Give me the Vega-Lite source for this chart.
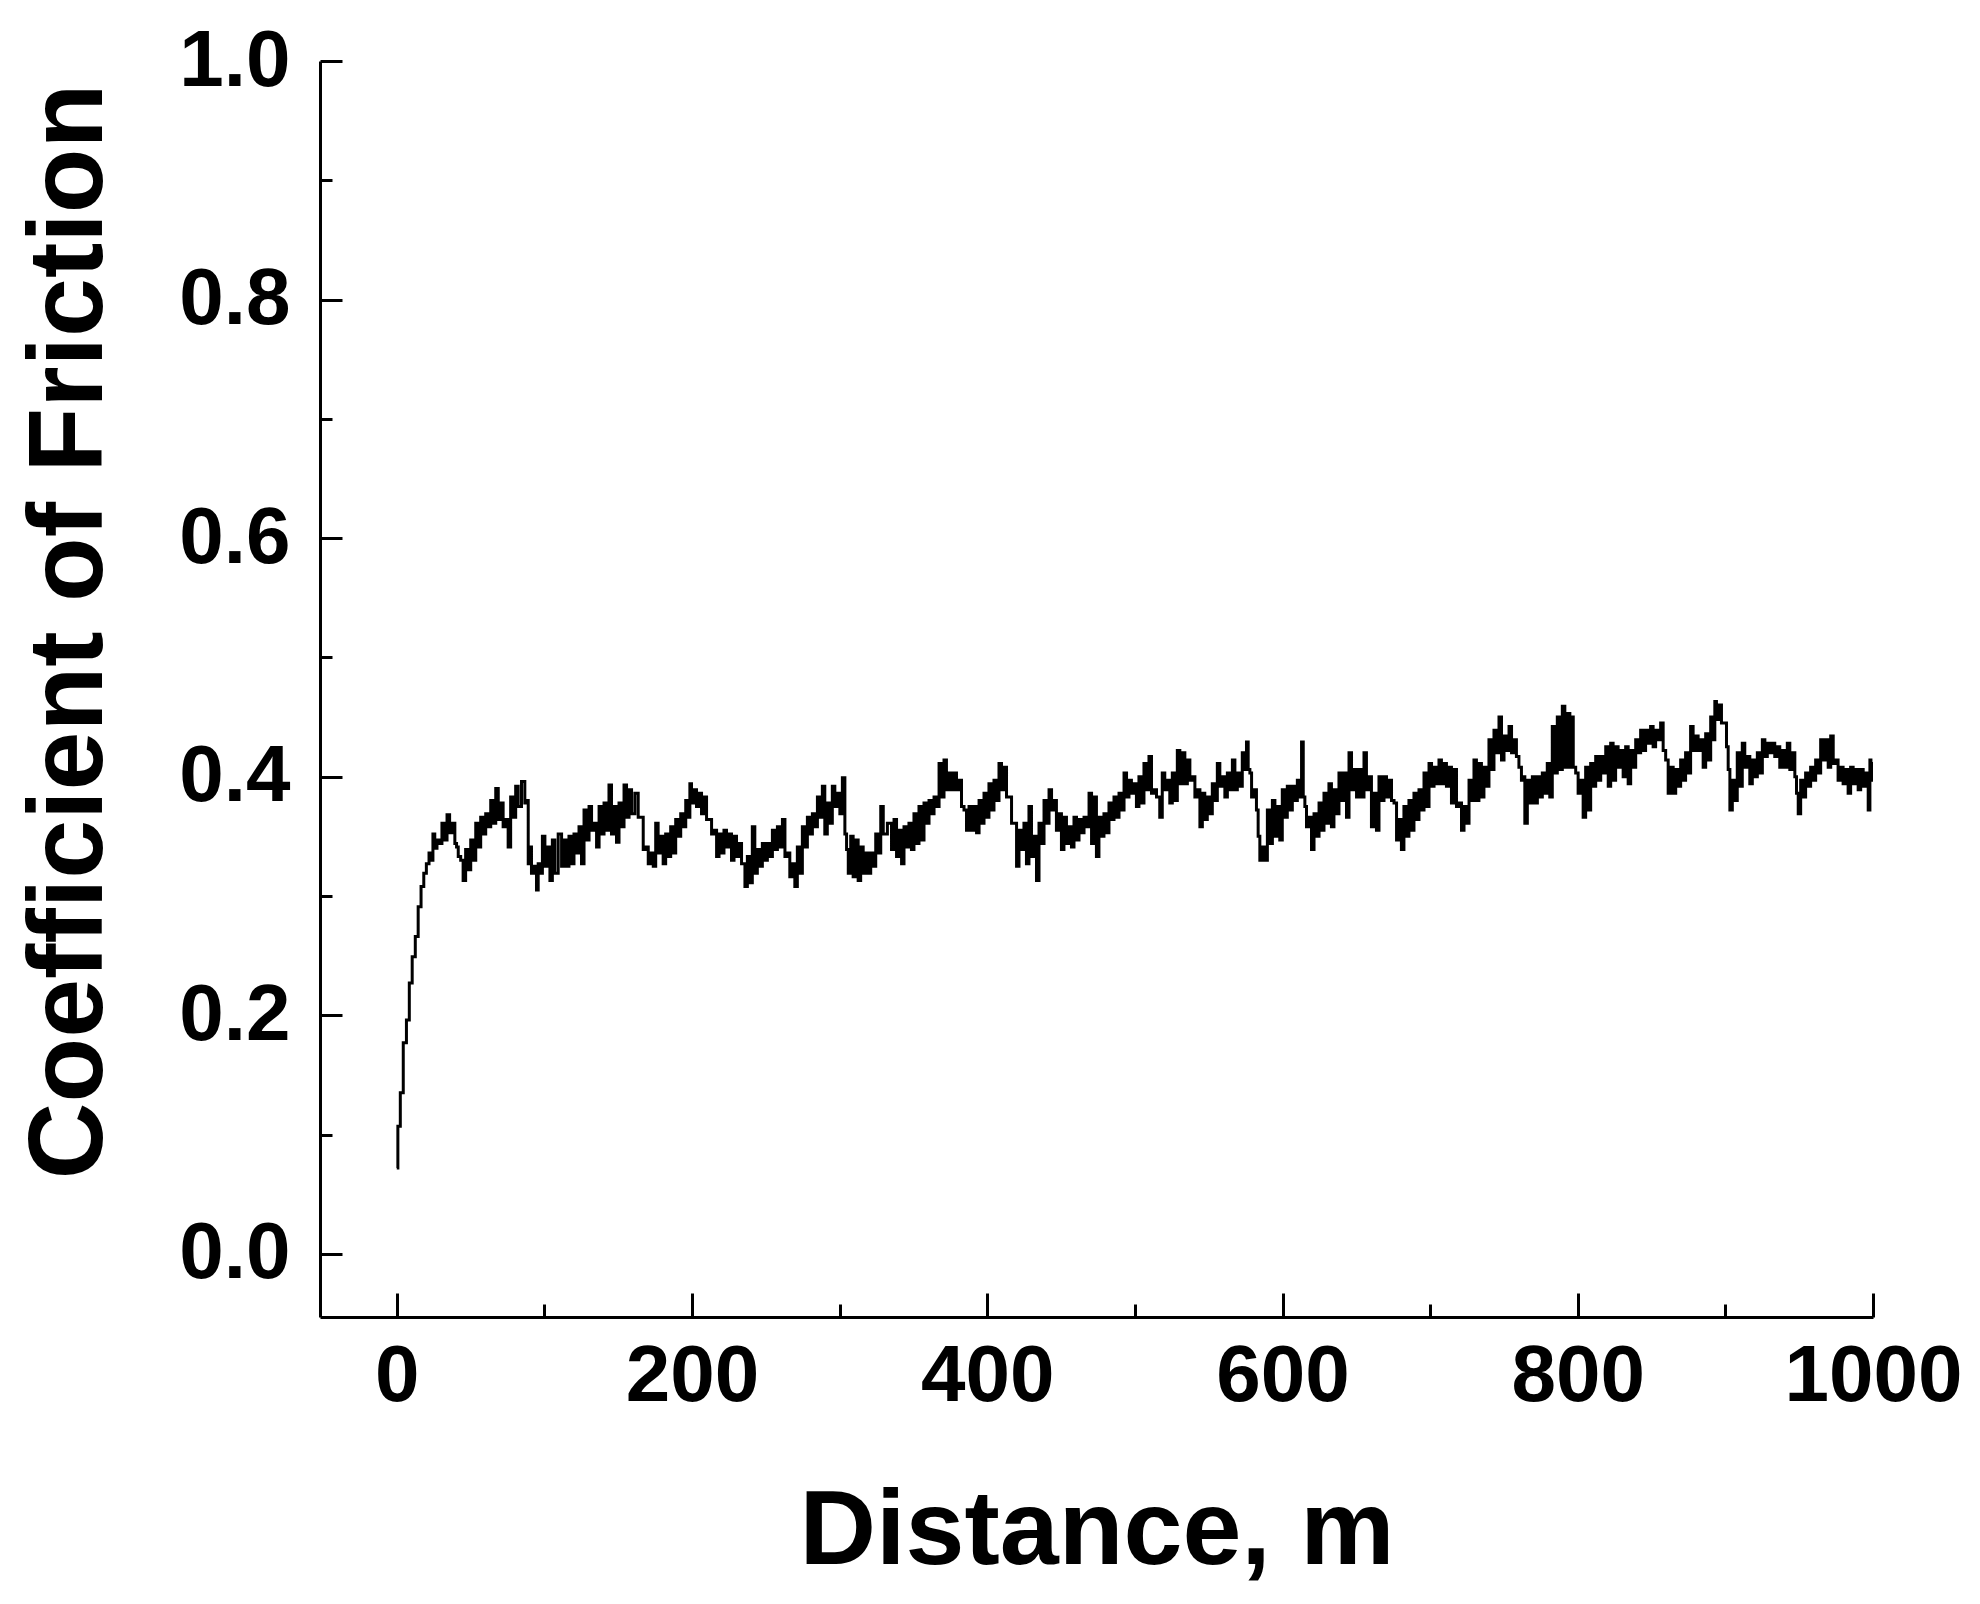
{
  "$schema": "https://vega.github.io/schema/vega-lite/v6.json",
  "width": 1553,
  "height": 1256,
  "autosize": "none",
  "padding": {"left": 320, "top": 61, "right": 107, "bottom": 287},
  "background": "white",
  "config": {"view": {"stroke": null}, "font": "Liberation Sans"},
  "data": {"values": [
    {"distance":0,"cof":0.072},{"distance":1.5,"cof":0.107},{"distance":3.3,"cof":0.135},{"distance":5.5,"cof":0.177},{"distance":7.6,"cof":0.196},{"distance":9.4,"cof":0.227},{"distance":11.5,"cof":0.249},{"distance":13.6,"cof":0.266},{"distance":15.4,"cof":0.291},{"distance":17.5,"cof":0.308},{"distance":19.1,"cof":0.319},{"distance":21,"cof":0.327},{"distance":22.7,"cof":0.336},{"distance":24,"cof":0.33},{"distance":25,"cof":0.352},{"distance":26.5,"cof":0.34},{"distance":28,"cof":0.347},{"distance":29.5,"cof":0.344},{"distance":31.7,"cof":0.361},{"distance":33,"cof":0.347},{"distance":35.1,"cof":0.368},{"distance":36.5,"cof":0.353},
    {"distance":38.5,"cof":0.361},{"distance":40.2,"cof":0.344},{"distance":40.8,"cof":0.341},{"distance":42.5,"cof":0.333},{"distance":44.1,"cof":0.33},{"distance":45.8,"cof":0.313},{"distance":47.5,"cof":0.339},{"distance":49.2,"cof":0.322},{"distance":51,"cof":0.347},{"distance":52.7,"cof":0.33},{"distance":54.3,"cof":0.361},{"distance":56,"cof":0.341},{"distance":57.7,"cof":0.366},{"distance":59.4,"cof":0.352},{"distance":61.1,"cof":0.369},{"distance":62.8,"cof":0.358},{"distance":64.5,"cof":0.38},{"distance":66.2,"cof":0.361},{"distance":67.9,"cof":0.39},{"distance":69.6,"cof":0.364},{"distance":71.2,"cof":0.378},{"distance":72.9,"cof":0.358},{"distance":74.6,"cof":0.364},{"distance":76.3,"cof":0.341},{"distance":78,"cof":0.383},{"distance":79.7,"cof":0.366},{"distance":81.4,"cof":0.392},{"distance":83.1,"cof":0.375},{"distance":85.9,"cof":0.396},{"distance":87.6,"cof":0.378},{"distance":88.2,"cof":0.38},{"distance":89.9,"cof":0.327},{"distance":90.4,"cof":0.341},{"distance":92.1,"cof":0.319},{"distance":93.8,"cof":0.325},{"distance":95.5,"cof":0.305},{"distance":96.1,"cof":0.327},{"distance":97.8,"cof":0.319},{"distance":99.5,"cof":0.35},{"distance":101.2,"cof":0.325},{"distance":102.9,"cof":0.341},{"distance":104.6,"cof":0.313},{"distance":106.2,"cof":0.347},{"distance":107.9,"cof":0.319},{"distance":110.8,"cof":0.352},{"distance":112.5,"cof":0.325},{"distance":114.1,"cof":0.347},{"distance":115.8,"cof":0.325},{"distance":117.5,"cof":0.35},{"distance":119.2,"cof":0.327},{"distance":120.9,"cof":0.352},{"distance":122.6,"cof":0.336},{"distance":124.3,"cof":0.358},{"distance":126,"cof":0.327},{"distance":127.7,"cof":0.372},{"distance":129.4,"cof":0.347},{"distance":131.1,"cof":0.375},{"distance":132.8,"cof":0.355},{"distance":134.5,"cof":0.361},{"distance":136.2,"cof":0.341},{"distance":137.9,"cof":0.375},{"distance":139.6,"cof":0.352},{"distance":141.2,"cof":0.378},{"distance":142.9,"cof":0.355},{"distance":144.6,"cof":0.393},{"distance":146.3,"cof":0.352},{"distance":148,"cof":0.375},{"distance":149.7,"cof":0.345},{"distance":151.4,"cof":0.378},{"distance":153.1,"cof":0.358},{"distance":154.8,"cof":0.393},{"distance":156.5,"cof":0.366},{"distance":158.2,"cof":0.389},{"distance":159.9,"cof":0.369},{"distance":162.7,"cof":0.386},{"distance":164.4,"cof":0.366},{"distance":166.1,"cof":0.366},{"distance":167.8,"cof":0.339},{"distance":169.5,"cof":0.341},{"distance":171.2,"cof":0.327},{"distance":172.9,"cof":0.336},{"distance":174.6,"cof":0.325},{"distance":176.2,"cof":0.361},{"distance":177.9,"cof":0.336},{"distance":179.6,"cof":0.35},{"distance":181.3,"cof":0.327},{"distance":183,"cof":0.352},{"distance":184.7,"cof":0.333},{"distance":186.4,"cof":0.358},{"distance":188.1,"cof":0.336},{"distance":189.8,"cof":0.364},{"distance":191.5,"cof":0.35},{"distance":193.2,"cof":0.369},{"distance":194.9,"cof":0.358},{"distance":196.6,"cof":0.38},{"distance":198.3,"cof":0.366},{"distance":198.8,"cof":0.394},{"distance":200.5,"cof":0.378},{"distance":202.2,"cof":0.389},{"distance":203.9,"cof":0.375},{"distance":205.6,"cof":0.386},{"distance":207.3,"cof":0.369},{"distance":209,"cof":0.383},{"distance":210.7,"cof":0.364},{"distance":212.4,"cof":0.364},{"distance":214.1,"cof":0.352},{"distance":215.8,"cof":0.355},{"distance":217.5,"cof":0.333},{"distance":219.1,"cof":0.352},{"distance":220.8,"cof":0.336},{"distance":222.5,"cof":0.355},{"distance":224.2,"cof":0.341},{"distance":225.9,"cof":0.352},{"distance":227.6,"cof":0.33},{"distance":229.3,"cof":0.35},{"distance":231,"cof":0.333},{"distance":232.7,"cof":0.344},{"distance":234.4,"cof":0.327},{"distance":235,"cof":0.327},{"distance":236.7,"cof":0.308},{"distance":238.3,"cof":0.333},{"distance":240,"cof":0.311},{"distance":241.7,"cof":0.358},{"distance":243.4,"cof":0.319},{"distance":245.1,"cof":0.339},{"distance":246.8,"cof":0.325},{"distance":248.5,"cof":0.344},{"distance":250.2,"cof":0.33},{"distance":251.9,"cof":0.344},{"distance":253.6,"cof":0.333},{"distance":255.3,"cof":0.355},{"distance":257,"cof":0.339},{"distance":258.7,"cof":0.358},{"distance":260.4,"cof":0.341},{"distance":262.1,"cof":0.364},{"distance":263.8,"cof":0.333},{"distance":265.4,"cof":0.336},{"distance":267.1,"cof":0.316},{"distance":268.8,"cof":0.327},{"distance":270.5,"cof":0.308},{"distance":272.2,"cof":0.341},{"distance":273.9,"cof":0.319},{"distance":275.6,"cof":0.358},{"distance":277.3,"cof":0.341},{"distance":279,"cof":0.366},{"distance":280.7,"cof":0.352},{"distance":282.4,"cof":0.369},{"distance":284.1,"cof":0.358},{"distance":285.8,"cof":0.383},{"distance":287.5,"cof":0.366},{"distance":289.1,"cof":0.392},{"distance":290.8,"cof":0.352},{"distance":292.5,"cof":0.378},{"distance":294.2,"cof":0.361},{"distance":295.9,"cof":0.392},{"distance":297.6,"cof":0.375},{"distance":299.3,"cof":0.386},{"distance":301,"cof":0.369},{"distance":302.7,"cof":0.399},{"distance":304.4,"cof":0.352},{"distance":305,"cof":0.339},{"distance":306.7,"cof":0.319},{"distance":308.3,"cof":0.35},{"distance":310,"cof":0.316},{"distance":311.7,"cof":0.347},{"distance":313.4,"cof":0.313},{"distance":315.1,"cof":0.341},{"distance":316.8,"cof":0.319},{"distance":318.5,"cof":0.336},{"distance":320.2,"cof":0.319},{"distance":321.9,"cof":0.336},{"distance":323.6,"cof":0.325},{"distance":325.3,"cof":0.352},{"distance":327,"cof":0.336},{"distance":328.7,"cof":0.375},{"distance":330.4,"cof":0.352},
    {"distance":334.3,"cof":0.361},{"distance":336,"cof":0.339},{"distance":337.7,"cof":0.364},{"distance":339.4,"cof":0.333},{"distance":341.1,"cof":0.355},{"distance":342.8,"cof":0.327},{"distance":344.4,"cof":0.358},{"distance":346.1,"cof":0.341},{"distance":347.8,"cof":0.361},{"distance":349.5,"cof":0.339},{"distance":351.2,"cof":0.369},{"distance":352.9,"cof":0.344},{"distance":354.6,"cof":0.375},{"distance":356.3,"cof":0.347},{"distance":358,"cof":0.378},{"distance":359.7,"cof":0.361},{"distance":361.4,"cof":0.38},{"distance":363.1,"cof":0.369},{"distance":364.8,"cof":0.383},{"distance":366.5,"cof":0.375},{"distance":368.2,"cof":0.411},{"distance":369.9,"cof":0.383},{"distance":371.5,"cof":0.414},{"distance":373.2,"cof":0.389},{"distance":374.9,"cof":0.403},{"distance":376.6,"cof":0.389},{"distance":378.3,"cof":0.403},{"distance":380,"cof":0.389},{"distance":381.7,"cof":0.397},{"distance":383.4,"cof":0.375},{"distance":385.1,"cof":0.372},{"distance":386.8,"cof":0.355},{"distance":388.5,"cof":0.375},{"distance":390.2,"cof":0.355},{"distance":391.9,"cof":0.375},{"distance":393.6,"cof":0.353},{"distance":395.3,"cof":0.38},{"distance":397,"cof":0.361},{"distance":398.6,"cof":0.386},{"distance":400.3,"cof":0.366},{"distance":402,"cof":0.394},{"distance":403.7,"cof":0.372},{"distance":405.4,"cof":0.397},{"distance":407.1,"cof":0.38},{"distance":408.8,"cof":0.411},{"distance":410.5,"cof":0.389},{"distance":412.2,"cof":0.408},{"distance":413.9,"cof":0.383},{"distance":415.6,"cof":0.383},{"distance":417.3,"cof":0.361},{"distance":419,"cof":0.361},{"distance":420.7,"cof":0.325},{"distance":422.3,"cof":0.355},{"distance":424,"cof":0.339},{"distance":425.7,"cof":0.361},{"distance":427.4,"cof":0.327},{"distance":429.1,"cof":0.375},{"distance":430.8,"cof":0.333},{"distance":432.5,"cof":0.35},{"distance":434.2,"cof":0.313},{"distance":435.9,"cof":0.361},{"distance":437.6,"cof":0.344},{"distance":439.3,"cof":0.38},{"distance":441,"cof":0.361},{"distance":442.7,"cof":0.389},{"distance":444.4,"cof":0.372},{"distance":446,"cof":0.38},{"distance":447.7,"cof":0.355},{"distance":449.4,"cof":0.369},{"distance":451.1,"cof":0.339},{"distance":452.8,"cof":0.366},{"distance":454.5,"cof":0.344},{"distance":456.2,"cof":0.358},{"distance":457.9,"cof":0.341},{"distance":459.6,"cof":0.366},{"distance":461.3,"cof":0.347},{"distance":463,"cof":0.364},{"distance":464.7,"cof":0.353},{"distance":466.4,"cof":0.366},{"distance":468.1,"cof":0.358},{"distance":469.8,"cof":0.386},{"distance":471.5,"cof":0.344},{"distance":473.1,"cof":0.383},{"distance":474.8,"cof":0.333},{"distance":476.5,"cof":0.366},{"distance":478.2,"cof":0.35},{"distance":479.9,"cof":0.369},{"distance":481.6,"cof":0.353},{"distance":483.3,"cof":0.378},{"distance":485,"cof":0.364},{"distance":486.7,"cof":0.383},{"distance":488.4,"cof":0.366},{"distance":490.1,"cof":0.386},{"distance":491.8,"cof":0.372},{"distance":493.5,"cof":0.403},{"distance":495.2,"cof":0.383},{"distance":496.8,"cof":0.397},{"distance":498.5,"cof":0.386},{"distance":500.2,"cof":0.394},{"distance":501.9,"cof":0.375},{"distance":503.6,"cof":0.4},{"distance":505.3,"cof":0.378},{"distance":507,"cof":0.411},{"distance":508.7,"cof":0.389},{"distance":510.4,"cof":0.417},{"distance":512.1,"cof":0.386},{"distance":513.8,"cof":0.389},{"distance":515.5,"cof":0.383},{"distance":516,"cof":0.383},{"distance":517.7,"cof":0.366},{"distance":519.4,"cof":0.403},{"distance":521.1,"cof":0.389},{"distance":522.8,"cof":0.397},{"distance":524.5,"cof":0.378},{"distance":526.2,"cof":0.403},{"distance":527.9,"cof":0.38},{"distance":529.6,"cof":0.422},{"distance":531.3,"cof":0.394},{"distance":533,"cof":0.42},{"distance":534.7,"cof":0.394},{"distance":536.4,"cof":0.414},{"distance":538.1,"cof":0.397},{"distance":539.8,"cof":0.4},{"distance":541.5,"cof":0.383},{"distance":543.2,"cof":0.389},{"distance":544.9,"cof":0.358},{"distance":546.5,"cof":0.386},{"distance":548.2,"cof":0.364},{"distance":549.9,"cof":0.383},{"distance":551.6,"cof":0.369},{"distance":553.3,"cof":0.394},{"distance":555,"cof":0.38},{"distance":556.7,"cof":0.411},{"distance":558.4,"cof":0.392},{"distance":560.1,"cof":0.4},{"distance":561.8,"cof":0.383},{"distance":563.5,"cof":0.403},{"distance":565.2,"cof":0.389},{"distance":566.9,"cof":0.414},{"distance":568.6,"cof":0.389},{"distance":570.2,"cof":0.403},{"distance":571.9,"cof":0.392},{"distance":573.6,"cof":0.42},{"distance":575.3,"cof":0.406},{"distance":575.9,"cof":0.429},{"distance":577.6,"cof":0.406},{"distance":578.2,"cof":0.403},{"distance":579.9,"cof":0.383},{"distance":581.5,"cof":0.389},{"distance":583.2,"cof":0.372},{"distance":583.8,"cof":0.35},{"distance":585.5,"cof":0.33},{"distance":587.2,"cof":0.341},{"distance":588.9,"cof":0.33},{"distance":590.6,"cof":0.372},{"distance":592.3,"cof":0.344},{"distance":594,"cof":0.38},{"distance":595.7,"cof":0.35},{"distance":597.3,"cof":0.375},{"distance":599,"cof":0.347},{"distance":600.7,"cof":0.389},{"distance":602.4,"cof":0.366},{"distance":604.1,"cof":0.392},{"distance":605.8,"cof":0.372},{"distance":607.5,"cof":0.392},{"distance":609.2,"cof":0.38},{"distance":610.9,"cof":0.397},{"distance":612.6,"cof":0.383},{"distance":613.2,"cof":0.429},{"distance":614.9,"cof":0.383},{"distance":615.4,"cof":0.375},{"distance":617.1,"cof":0.358},{"distance":618.8,"cof":0.366},{"distance":620.5,"cof":0.339},{"distance":622.2,"cof":0.369},{"distance":623.9,"cof":0.35},{"distance":625.6,"cof":0.378},{"distance":627.3,"cof":0.355},{"distance":628.9,"cof":0.386},{"distance":630.6,"cof":0.361},{"distance":632.3,"cof":0.394},{"distance":634,"cof":0.358},{"distance":635.7,"cof":0.389},{"distance":637.4,"cof":0.369},{"distance":639.1,"cof":0.403},{"distance":640.8,"cof":0.38},{"distance":642.5,"cof":0.403},{"distance":644.2,"cof":0.366},{"distance":645.9,"cof":0.42},{"distance":647.6,"cof":0.389},{"distance":649.3,"cof":0.406},{"distance":651,"cof":0.383},{"distance":652.7,"cof":0.406},{"distance":654.4,"cof":0.383},{"distance":656,"cof":0.42},{"distance":657.7,"cof":0.389},{"distance":659.4,"cof":0.4},{"distance":661.1,"cof":0.358},{"distance":662.8,"cof":0.386},{"distance":664.5,"cof":0.355},
    {"distance":666.2,"cof":0.4},{"distance":667.9,"cof":0.38},{"distance":669.6,"cof":0.4},{"distance":671.3,"cof":0.383},{"distance":673,"cof":0.397},{"distance":674.7,"cof":0.38},{"distance":676.4,"cof":0.378},{"distance":678.1,"cof":0.347},{"distance":679.7,"cof":0.364},{"distance":681.4,"cof":0.339},{"distance":683.1,"cof":0.375},{"distance":684.8,"cof":0.35},{"distance":686.5,"cof":0.38},{"distance":688.2,"cof":0.355},{"distance":689.9,"cof":0.386},{"distance":691.6,"cof":0.364},{"distance":693.3,"cof":0.389},{"distance":695,"cof":0.372},{"distance":696.7,"cof":0.403},{"distance":698.4,"cof":0.375},{"distance":700.1,"cof":0.411},{"distance":701.8,"cof":0.392},{"distance":703.5,"cof":0.408},{"distance":705.2,"cof":0.394},{"distance":706.8,"cof":0.414},{"distance":708.5,"cof":0.394},{"distance":710.2,"cof":0.411},{"distance":711.9,"cof":0.392},{"distance":713.6,"cof":0.408},{"distance":715.3,"cof":0.378},{"distance":717,"cof":0.406},{"distance":718.7,"cof":0.375},{"distance":720.4,"cof":0.378},{"distance":722.1,"cof":0.355},{"distance":723.8,"cof":0.375},{"distance":725.5,"cof":0.361},{"distance":727.2,"cof":0.397},{"distance":728.9,"cof":0.38},{"distance":730.5,"cof":0.414},{"distance":732.2,"cof":0.38},{"distance":733.9,"cof":0.411},{"distance":735.6,"cof":0.383},{"distance":737.3,"cof":0.408},{"distance":739,"cof":0.392},{"distance":740.7,"cof":0.431},{"distance":742.4,"cof":0.406},{"distance":744.1,"cof":0.439},{"distance":745.8,"cof":0.42},{"distance":747.5,"cof":0.45},{"distance":749.2,"cof":0.414},{"distance":750.9,"cof":0.434},{"distance":752.6,"cof":0.422},{"distance":754.3,"cof":0.442},{"distance":756,"cof":0.42},{"distance":757.6,"cof":0.431},{"distance":759.3,"cof":0.417},{"distance":761,"cof":0.408},{"distance":762.7,"cof":0.397},{"distance":763.3,"cof":0.4},{"distance":765,"cof":0.361},{"distance":766.7,"cof":0.397},{"distance":768.4,"cof":0.378},{"distance":770.1,"cof":0.4},{"distance":771.8,"cof":0.378},{"distance":773.5,"cof":0.4},{"distance":775.2,"cof":0.383},{"distance":776.8,"cof":0.403},{"distance":778.5,"cof":0.386},{"distance":780.2,"cof":0.411},{"distance":781.9,"cof":0.383},{"distance":783.6,"cof":0.442},{"distance":785.3,"cof":0.403},{"distance":787,"cof":0.45},{"distance":788.7,"cof":0.406},{"distance":790.4,"cof":0.459},{"distance":792.1,"cof":0.408},{"distance":793.8,"cof":0.453},{"distance":795.5,"cof":0.408},{"distance":796.1,"cof":0.45},{"distance":797.8,"cof":0.408},{"distance":799.4,"cof":0.403},{"distance":801.1,"cof":0.386},{"distance":802.8,"cof":0.397},{"distance":804.5,"cof":0.366},{"distance":806.2,"cof":0.408},{"distance":807.9,"cof":0.372},{"distance":809.6,"cof":0.411},{"distance":811.3,"cof":0.392},{"distance":813,"cof":0.417},{"distance":814.7,"cof":0.397},{"distance":816.4,"cof":0.417},{"distance":818.1,"cof":0.403},{"distance":819.8,"cof":0.425},{"distance":821.5,"cof":0.392},{"distance":823.1,"cof":0.428},{"distance":824.8,"cof":0.397},{"distance":826.5,"cof":0.425},{"distance":828.2,"cof":0.408},{"distance":829.9,"cof":0.422},{"distance":831.6,"cof":0.4},{"distance":833.3,"cof":0.425},{"distance":835,"cof":0.394},{"distance":836.7,"cof":0.422},{"distance":838.4,"cof":0.408},{"distance":840.1,"cof":0.431},{"distance":841.8,"cof":0.42},{"distance":843.4,"cof":0.439},{"distance":845.1,"cof":0.422},{"distance":846.8,"cof":0.439},{"distance":848.5,"cof":0.428},{"distance":850.2,"cof":0.442},{"distance":851.9,"cof":0.425},{"distance":853.6,"cof":0.439},{"distance":855.3,"cof":0.431},{"distance":857,"cof":0.445},{"distance":858.7,"cof":0.422},{"distance":860.4,"cof":0.414},{"distance":862.1,"cof":0.386},{"distance":863.8,"cof":0.408},{"distance":865.5,"cof":0.386},{"distance":867.2,"cof":0.406},{"distance":868.9,"cof":0.392},{"distance":870.5,"cof":0.414},{"distance":872.2,"cof":0.397},{"distance":873.9,"cof":0.42},{"distance":875.6,"cof":0.403},{"distance":877.3,"cof":0.442},{"distance":879,"cof":0.422},{"distance":880.7,"cof":0.434},{"distance":882.4,"cof":0.422},{"distance":884.1,"cof":0.431},{"distance":885.8,"cof":0.408},{"distance":887.5,"cof":0.436},{"distance":889.2,"cof":0.414},{"distance":890.9,"cof":0.45},{"distance":892.6,"cof":0.431},{"distance":893.1,"cof":0.463},{"distance":894.8,"cof":0.448},{"distance":896.5,"cof":0.46},{"distance":898.2,"cof":0.445},{"distance":899.9,"cof":0.445},{"distance":901.6,"cof":0.425},{"distance":902.2,"cof":0.406},{"distance":903.9,"cof":0.372},{"distance":905.5,"cof":0.397},{"distance":907.2,"cof":0.38},{"distance":908.9,"cof":0.42},{"distance":910.6,"cof":0.392},{"distance":912.3,"cof":0.428},{"distance":914,"cof":0.408},{"distance":915.7,"cof":0.417},{"distance":917.4,"cof":0.394},{"distance":919.1,"cof":0.414},{"distance":920.8,"cof":0.4},{"distance":922.5,"cof":0.42},{"distance":924.2,"cof":0.403},{"distance":925.9,"cof":0.431},{"distance":927.6,"cof":0.417},{"distance":929.2,"cof":0.428},{"distance":930.9,"cof":0.42},{"distance":932.6,"cof":0.428},{"distance":934.3,"cof":0.417},{"distance":936,"cof":0.425},{"distance":937.7,"cof":0.408},{"distance":939.4,"cof":0.422},{"distance":941.1,"cof":0.408},{"distance":942.8,"cof":0.428},{"distance":944.5,"cof":0.406},{"distance":946.2,"cof":0.42},{"distance":947.9,"cof":0.4},{"distance":948.5,"cof":0.386},{"distance":950.2,"cof":0.369},{"distance":951.8,"cof":0.397},{"distance":953.5,"cof":0.383},{"distance":955.2,"cof":0.403},{"distance":956.9,"cof":0.392},{"distance":958.6,"cof":0.408},{"distance":960.3,"cof":0.397},{"distance":962,"cof":0.414},{"distance":963.7,"cof":0.403},{"distance":965.4,"cof":0.431},{"distance":967.1,"cof":0.414},{"distance":968.8,"cof":0.431},{"distance":970.5,"cof":0.408},{"distance":972.2,"cof":0.434},{"distance":973.9,"cof":0.411},{"distance":975.5,"cof":0.414},{"distance":977.2,"cof":0.397},{"distance":978.9,"cof":0.408},{"distance":980.6,"cof":0.394},{"distance":982.3,"cof":0.406},{"distance":984,"cof":0.386},{"distance":985.7,"cof":0.408},{"distance":987.4,"cof":0.394},{"distance":989.1,"cof":0.406},{"distance":990.8,"cof":0.389},{"distance":992.5,"cof":0.406},{"distance":994.2,"cof":0.392},{"distance":995.9,"cof":0.403},{"distance":997.6,"cof":0.372},{"distance":998.2,"cof":0.414},{"distance":999,"cof":0.397},{"distance":1000,"cof":0.411}
  ]},
  "mark": {"type": "line", "color": "black", "strokeWidth": 3, "interpolate": "step", "clip": true},
  "encoding": {
    "x": {
      "field": "distance", "type": "quantitative",
      "scale": {"domain": [-52, 1000], "nice": false, "zero": false},
      "axis": {
        "title": "Distance, m",
        "values": [0, 100, 200, 300, 400, 500, 600, 700, 800, 900, 1000],
        "grid": false,
        "domainColor": "black", "domainWidth": 3,
        "tickColor": "black", "tickWidth": 3,
        "tickSize": {"condition": {"test": "datum.value % 200 === 0", "value": -24}, "value": -13},
        "labelExpr": "datum.value % 200 === 0 ? format(datum.value, 'd') : ''",
        "labelFont": "Liberation Sans", "labelFontWeight": "bold", "labelFontSize": 80, "labelColor": "black",
        "labelPadding": 44, "labelFlush": false, "labelOverlap": false, "labelLimit": 0,
        "titleFont": "Liberation Sans", "titleFontWeight": "bold", "titleFontSize": 106, "titleColor": "black",
        "titleBaseline": "alphabetic", "titleY": 246
      }
    },
    "y": {
      "field": "cof", "type": "quantitative",
      "scale": {"domain": [-0.053, 1.0], "nice": false, "zero": false},
      "axis": {
        "title": "Coefficient of Friction",
        "values": [0, 0.1, 0.2, 0.3, 0.4, 0.5, 0.6, 0.7, 0.8, 0.9, 1.0],
        "grid": false,
        "domainColor": "black", "domainWidth": 3,
        "tickColor": "black", "tickWidth": 3,
        "tickSize": {"condition": {"test": "round(datum.value * 10) % 2 === 0", "value": -22}, "value": -12},
        "labelExpr": "round(datum.value * 10) % 2 === 0 ? format(datum.value, '.1f') : ''",
        "labelFont": "Liberation Sans", "labelFontWeight": "bold", "labelFontSize": 80, "labelColor": "black",
        "labelPadding": 52, "labelFlush": false, "labelOverlap": false, "labelLimit": 0,
        "titleFont": "Liberation Sans", "titleFontWeight": "bold", "titleFontSize": 106, "titleColor": "black",
        "titleAngle": 270, "titleAlign": "center", "titleBaseline": "alphabetic",
        "titleX": -219, "titleY": 570
      }
    }
  }
}
